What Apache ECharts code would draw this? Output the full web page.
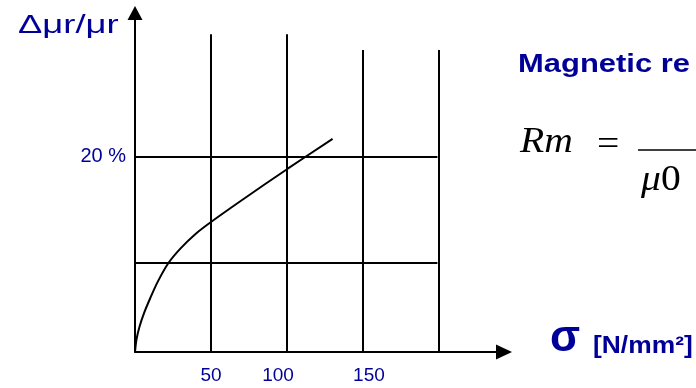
<!DOCTYPE html>
<html>
<head>
<meta charset="utf-8">
<script src="https://cdn.jsdelivr.net/npm/echarts@6/dist/echarts.min.js"></script>
<style>html,body{margin:0;padding:0;background:#fff;}#c{width:696px;height:388px;}</style>
</head>
<body>
<div id="c"></div>
<script>
// Data
const curve = [[0,0],[1,1.3],[3,2.6],[6,4.0],[10,5.5],[15,7.2],[22,9.1],[30,10.6],[40,12.1],[50,13.3],[70,15.5],[100,18.7],[130,21.8]];
const xTickLabels = [50, 100, 150];
const yTickLabels = [20];
const gridX = [50, 100, 150, 200];
const gridY = [9.1, 20];
const gridXTop = [32.5, 32.5, 30.9, 30.9];

const BLUE = '#000099';
const chart = echarts.init(document.getElementById('c'));

const markData = [];
gridX.forEach((x, i) => markData.push([{coord: [x, 0]}, {coord: [x, gridXTop[i]]}]));
gridY.forEach(y => markData.push([{coord: [0, y]}, {coord: [199, y]}]));

chart.setOption({
  animation: false,
  grid: {left: 135, right: 192, top: 13, bottom: 36, containLabel: false},
  xAxis: {
    type: 'value', min: 0, max: 242.8,
    splitLine: {show: false},
    axisTick: {show: false},
    axisLine: {lineStyle: {color: '#000', width: 2}, symbol: ['none', 'triangle'], symbolSize: [15, 16]},
    axisLabel: {
      customValues: xTickLabels,
      margin: 14,
      color: BLUE, fontFamily: 'Liberation Sans', fontSize: 19,
      formatter: v => v === 100 ? '{a|100}' : v === 150 ? '{b|150}' : String(v),
      rich: {
        a: {padding: [0, 18, 0, 0], color: BLUE, fontFamily: 'Liberation Sans', fontSize: 19},
        b: {padding: [0, 0, 0, 12], color: BLUE, fontFamily: 'Liberation Sans', fontSize: 19}
      }
    }
  },
  yAxis: {
    type: 'value', min: 0, max: 34.68,
    splitLine: {show: false},
    axisTick: {show: false},
    axisLine: {show: true, lineStyle: {color: '#000', width: 2}, symbol: ['none', 'triangle'], symbolSize: [15, 14]},
    axisLabel: {
      customValues: yTickLabels,
      margin: 9,
      color: BLUE, fontFamily: 'Liberation Sans', fontSize: 20,
      formatter: '{value} %'
    }
  },
  series: [{
    type: 'line',
    data: curve,
    smooth: 0.3,
    symbol: 'none',
    lineStyle: {color: '#000', width: 2},
    markLine: {
      silent: true,
      symbol: ['none', 'none'],
      label: {show: false},
      lineStyle: {color: '#000', width: 2, type: 'solid'},
      data: markData
    }
  }],
  graphic: [
    {type: 'text', x: 18, y: 26, scaleX: 1.4, style: {text: 'Δμr/μr', fill: BLUE, font: '26px "Liberation Sans"', verticalAlign: 'middle'}},
    {type: 'text', x: 518, y: 65, scaleX: 1.19, style: {text: 'Magnetic re', fill: BLUE, font: 'bold 26px "Liberation Sans"', verticalAlign: 'middle'}},
    {type: 'text', x: 520, y: 143, scaleX: 1.1, style: {text: 'Rm', fill: '#000', font: 'italic 36px "Liberation Serif"', verticalAlign: 'middle'}},
    {type: 'text', x: 597, y: 146, scaleX: 1.1, style: {text: '=', fill: '#000', font: '36px "Liberation Serif"', verticalAlign: 'middle'}},
    {type: 'line', shape: {x1: 638, y1: 150, x2: 696, y2: 150}, style: {stroke: '#000', lineWidth: 1.5}},
    {type: 'text', x: 641, y: 181, scaleX: 1.1, style: {text: '{m|μ}{z|0}', fill: '#000', verticalAlign: 'middle',
      rich: {m: {font: 'italic 36px "Liberation Serif"', fill: '#000'}, z: {font: '36px "Liberation Serif"', fill: '#000'}}}},
    {type: 'text', x: 550, y: 339, style: {text: 'σ', fill: BLUE, font: 'bold 44px "Liberation Sans"', verticalAlign: 'middle'}},
    {type: 'text', x: 593, y: 346, scaleX: 1.1, style: {text: '[N/mm²]', fill: BLUE, font: 'bold 24px "Liberation Sans"', verticalAlign: 'middle'}}
  ]
});
</script>
</body>
</html>
